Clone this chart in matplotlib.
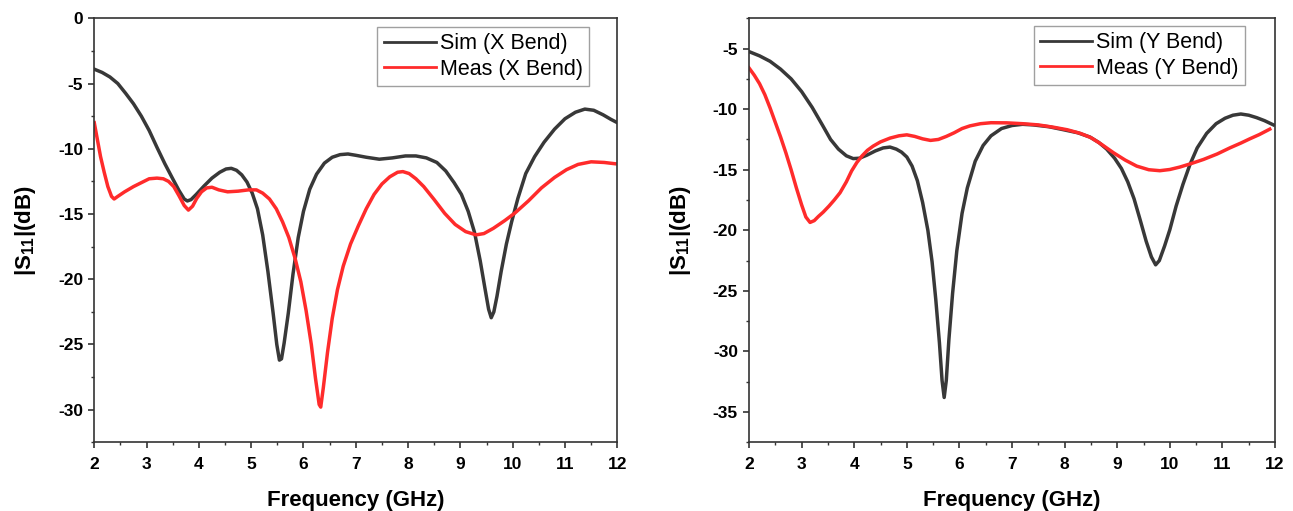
import matplotlib
matplotlib.use("Agg")
import matplotlib.pyplot as plt
from matplotlib.ticker import MultipleLocator

plt.rcParams['font.family'] = ['Liberation Sans', 'DejaVu Sans']
plt.rcParams['mathtext.fontset'] = 'custom'
plt.rcParams['mathtext.bf'] = 'Liberation Sans:bold'
plt.rcParams['mathtext.rm'] = 'Liberation Sans:bold'
plt.rcParams['axes.unicode_minus'] = False

# ---- data ----
sim_x_f = [2.0, 2.15, 2.3, 2.45, 2.6, 2.75, 2.9, 3.05, 3.2, 3.35, 3.5, 3.62, 3.72, 3.78, 3.85, 3.95,
           4.1, 4.25, 4.4, 4.52, 4.62, 4.72, 4.82, 4.92, 5.02, 5.12, 5.22, 5.32, 5.42, 5.49, 5.54,
           5.58, 5.63, 5.71, 5.8, 5.9, 6.0, 6.12, 6.25, 6.4, 6.55, 6.7, 6.85, 7.0, 7.2, 7.45, 7.7,
           7.95, 8.15, 8.35, 8.55, 8.72, 8.88, 9.02, 9.15, 9.27, 9.38, 9.47, 9.54, 9.59, 9.64, 9.7,
           9.78, 9.88, 9.98, 10.1, 10.25, 10.42, 10.6, 10.8, 11.0, 11.2, 11.38, 11.55, 11.73, 11.88,
           12.0]
sim_x_db = [-3.9, -4.15, -4.5, -5.0, -5.75, -6.55, -7.5, -8.6, -9.9, -11.15, -12.3, -13.2, -13.85,
            -14.0, -13.9, -13.5, -12.85, -12.25, -11.8, -11.55, -11.5, -11.65, -12.0, -12.55, -13.4,
            -14.6, -16.6, -19.4, -22.6, -25.0, -26.2, -26.1, -24.9, -22.6, -19.6, -16.8, -14.8,
            -13.1, -11.95, -11.1, -10.65, -10.45, -10.4, -10.5, -10.65, -10.8, -10.7, -10.55,
            -10.55, -10.7, -11.05, -11.7, -12.6, -13.5, -14.8, -16.4, -18.6, -20.7, -22.3, -22.95,
            -22.5, -21.3, -19.4, -17.3, -15.6, -13.8, -11.9, -10.6, -9.5, -8.5, -7.7, -7.2, -6.96,
            -7.05, -7.4, -7.75, -8.0]

meas_x_f = [2.0, 2.06, 2.12, 2.19, 2.26, 2.33, 2.38, 2.45, 2.58, 2.75, 2.9, 3.05, 3.2, 3.32, 3.42,
            3.52, 3.62, 3.72, 3.8, 3.88, 3.96, 4.05, 4.15, 4.25, 4.38, 4.55, 4.75, 4.95, 5.1, 5.22,
            5.35, 5.48, 5.6, 5.72, 5.84, 5.95, 6.05, 6.15, 6.23, 6.3, 6.33, 6.38, 6.46, 6.55, 6.65,
            6.76, 6.9, 7.05, 7.2, 7.35, 7.5, 7.65, 7.8, 7.9, 8.02, 8.15, 8.3, 8.5, 8.7, 8.9, 9.1,
            9.3, 9.45, 9.63, 9.85, 10.05, 10.3, 10.55, 10.8, 11.03, 11.25, 11.5, 11.75, 11.96]
meas_x_db = [-8.0, -9.3, -10.6, -11.8, -12.9, -13.65, -13.85, -13.65, -13.3, -12.9, -12.6, -12.3,
             -12.25, -12.3, -12.5, -12.9, -13.6, -14.35, -14.7, -14.4, -13.8, -13.3, -13.0, -12.95,
             -13.15, -13.3, -13.25, -13.15, -13.15, -13.4, -13.85, -14.6, -15.6, -16.8, -18.4,
             -20.2, -22.4, -25.0, -27.6, -29.6, -29.8, -28.3, -25.6, -23.0, -20.8, -19.0, -17.3,
             -15.9, -14.6, -13.5, -12.7, -12.15, -11.8, -11.75, -11.9, -12.3, -12.9, -13.9, -14.95,
             -15.8, -16.35, -16.6, -16.5, -16.1, -15.5, -14.9, -14.0, -13.0, -12.2, -11.6, -11.2,
             -11.0, -11.05, -11.15]

sim_y_f = [2.0, 2.2, 2.4, 2.6, 2.8, 3.0, 3.2, 3.4, 3.55, 3.7, 3.85, 3.98, 4.1, 4.24, 4.4, 4.55, 4.68,
           4.8, 4.9, 5.0, 5.1, 5.2, 5.3, 5.4, 5.48, 5.55, 5.62, 5.67, 5.71, 5.75, 5.8, 5.87, 5.95,
           6.05, 6.15, 6.3, 6.45, 6.6, 6.8, 7.0, 7.2, 7.4, 7.7, 7.98, 8.25, 8.48, 8.65, 8.8, 8.95,
           9.08, 9.2, 9.32, 9.44, 9.55, 9.65, 9.73, 9.8, 9.9, 10.0, 10.12, 10.25, 10.38, 10.52,
           10.7, 10.88, 11.05, 11.2, 11.35, 11.5, 11.65, 11.8, 11.97]
sim_y_db = [-5.25, -5.6, -6.05, -6.7, -7.5, -8.55, -9.85, -11.35, -12.5, -13.3, -13.85, -14.08,
            -14.05, -13.8, -13.45, -13.2, -13.13, -13.3, -13.55, -13.95, -14.7, -15.9, -17.7,
            -20.0, -22.6, -25.7, -29.3, -32.4, -33.8, -32.4, -29.0, -25.2, -21.7, -18.6, -16.5,
            -14.3, -13.0, -12.2, -11.6, -11.35, -11.25, -11.3, -11.45, -11.7, -11.95, -12.3,
            -12.75, -13.3, -14.05, -14.9, -16.0, -17.4, -19.2, -20.9, -22.2, -22.85, -22.5, -21.3,
            -19.95, -18.0, -16.2, -14.6, -13.2, -12.0, -11.2, -10.75, -10.5, -10.4, -10.5, -10.7,
            -10.95, -11.3]

meas_y_f = [2.0, 2.1, 2.2, 2.3, 2.4, 2.5, 2.6, 2.7, 2.8, 2.9, 3.0, 3.08, 3.16, 3.24, 3.32, 3.41,
            3.52, 3.62, 3.73, 3.85, 3.95, 4.05, 4.15, 4.25, 4.36, 4.5, 4.68, 4.85, 5.0, 5.15, 5.3,
            5.45, 5.6, 5.75, 5.9, 6.05, 6.2, 6.4, 6.6, 6.9, 7.2, 7.5, 7.8, 8.05, 8.3, 8.5, 8.7,
            8.93, 9.15, 9.37, 9.6, 9.81, 10.0, 10.19, 10.4, 10.64, 10.9, 11.14, 11.35, 11.52, 11.7,
            11.9]
meas_y_db = [-6.6, -7.2, -7.9, -8.8, -9.9, -11.1, -12.3, -13.6, -15.0, -16.5, -17.9, -18.9, -19.35,
             -19.2, -18.85, -18.5, -18.0, -17.5, -16.9, -16.0, -15.1, -14.4, -13.85, -13.4, -13.05,
             -12.7, -12.39, -12.2, -12.12, -12.25, -12.45, -12.58, -12.5, -12.25, -11.95, -11.6,
             -11.38, -11.2, -11.12, -11.13, -11.2, -11.3, -11.5, -11.7, -12.0, -12.35, -12.9,
             -13.6, -14.2, -14.7, -15.0, -15.08, -14.98, -14.78, -14.5, -14.15, -13.7, -13.2,
             -12.8, -12.45, -12.1, -11.65]

labels_x = ["Sim (X Bend)", "Meas (X Bend)"]
labels_y = ["Sim (Y Bend)", "Meas (Y Bend)"]

BLACK = '#383838'
RED = '#ff2b2b'

fig = plt.figure(figsize=(12.93, 5.11), dpi=100)
ax1 = fig.add_axes([0.0729, 0.1344, 0.4045, 0.8298])
ax2 = fig.add_axes([0.5793, 0.1344, 0.4068, 0.8298])


def style(ax, ylim, ymajor):
    ax.set_xlim(2, 12)
    ax.set_ylim(*ylim)
    ax.xaxis.set_major_locator(MultipleLocator(1))
    ax.xaxis.set_minor_locator(MultipleLocator(0.5))
    ax.yaxis.set_major_locator(MultipleLocator(ymajor))
    ax.yaxis.set_minor_locator(MultipleLocator(ymajor / 2))
    ax.tick_params(which='major', direction='out', length=4.5, width=1.2, color='#333333',
                   labelsize=12.5, pad=3.5)
    ax.tick_params(axis='x', which='major', pad=6)
    ax.tick_params(which='minor', direction='out', length=2.5, width=1.0, color='#333333')
    ax.tick_params(top=False, right=False, which='both')
    for lab in ax.get_xticklabels() + ax.get_yticklabels():
        lab.set_fontweight('bold')
    for sp in ax.spines.values():
        sp.set_linewidth(1.2)
        sp.set_color('#333333')
    ax.set_xlabel('Frequency (GHz)', fontsize=16, fontweight='bold', labelpad=13)
    ax.set_ylabel(r'|S$_{\mathbf{11}}$|(dB)', fontsize=16, fontweight='bold', labelpad=14)


def add_legend(ax, anchor):
    leg = ax.legend(loc='upper right', bbox_to_anchor=anchor, borderaxespad=0,
                    fontsize=15.5, frameon=True, fancybox=False, edgecolor='#888888',
                    handlelength=2.4, handletextpad=0.2, borderpad=0.3, labelspacing=0.2)
    leg.get_frame().set_linewidth(1.0)
    for line in leg.get_lines():
        line.set_linewidth(2.0)


ax1.plot(sim_x_f, sim_x_db, color=BLACK, lw=2.5, solid_joinstyle='round', label=labels_x[0])
ax1.plot(meas_x_f, meas_x_db, color=RED, lw=2.5, solid_joinstyle='round', label=labels_x[1])
style(ax1, (-32.5, 0), 5)
add_legend(ax1, (0.9465, 0.980))

ax2.plot(sim_y_f, sim_y_db, color=BLACK, lw=2.5, solid_joinstyle='round', label=labels_y[0])
ax2.plot(meas_y_f, meas_y_db, color=RED, lw=2.5, solid_joinstyle='round', label=labels_y[1])
style(ax2, (-37.5, -2.5), 5)
add_legend(ax2, (0.9435, 0.982))

fig.savefig('out.png', dpi=100)
